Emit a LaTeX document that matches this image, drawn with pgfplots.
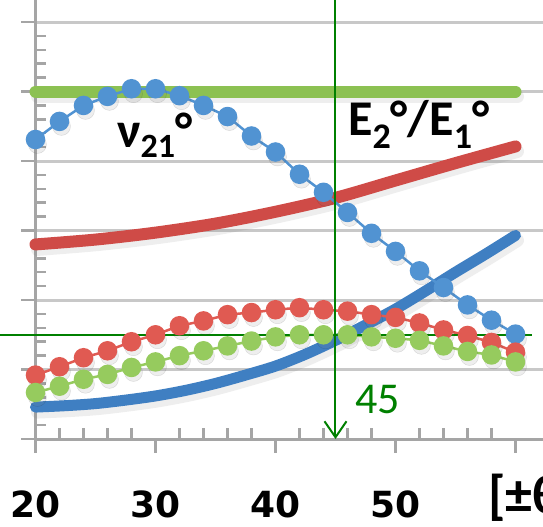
\documentclass[border=0pt]{standalone}
\usepackage{fontspec}
\usepackage{pgfplots}
\pgfplotsset{compat=1.18}
\usetikzlibrary{arrows.meta}
\setmainfont{Carlito}
\newfontfamily\tickfont{DejaVu Sans}

\definecolor{bluedot}{HTML}{5193D2}
\definecolor{blueline}{HTML}{3F7FC2}
\definecolor{reddot}{HTML}{E05A52}
\definecolor{redline}{HTML}{CF4B47}
\definecolor{greendot}{HTML}{96CB5E}
\definecolor{greenline}{HTML}{8CC152}
\definecolor{annot}{RGB}{0,128,0}
\definecolor{axisgray}{RGB}{165,165,165}
\definecolor{gridgray}{RGB}{200,200,200}
\definecolor{shadowgray}{RGB}{120,120,120}

% nu_21 (blue markers)
\pgfplotstableread{
x y
20 4.31
22 4.57
24 4.80
26 4.93
28 5.04
30 5.04
32 4.94
34 4.80
36 4.64
38 4.36
40 4.13
42 3.81
44 3.55
46 3.26
48 2.96
50 2.70
52 2.42
54 2.18
56 1.93
58 1.71
60 1.51
}\nutable

% red markers
\pgfplotstableread{
x y
20 0.92
22 1.04
24 1.17
26 1.27
28 1.40
30 1.50
32 1.63
34 1.70
36 1.79
38 1.82
40 1.86
42 1.89
44 1.86
46 1.84
48 1.79
50 1.75
52 1.67
54 1.57
56 1.49
58 1.39
60 1.25
}\redtable

% green markers
\pgfplotstableread{
x y
20 0.67
22 0.76
24 0.86
26 0.93
28 1.03
30 1.11
32 1.20
34 1.27
36 1.34
38 1.41
40 1.47
42 1.50
44 1.50
46 1.50
48 1.47
50 1.45
52 1.42
54 1.34
56 1.26
58 1.21
60 1.11
}\greentable

% E2/E1 (red curve)
\pgfplotstableread{
x y
20 2.80
25 2.87
30 2.97
35 3.10
40 3.27
45 3.47
50 3.72
55 3.97
60 4.21
}\ratiotable

% blue curve
\pgfplotstableread{
x y
20 0.46
22.5 0.48
25 0.51
27.5 0.56
30 0.62
32.5 0.70
35 0.80
37.5 0.92
40 1.05
42.5 1.22
45 1.42
47.5 1.64
50 1.87
52.5 2.13
55 2.40
57.5 2.66
60 2.93
}\bluetable

\begin{document}
\begin{tikzpicture}
\begin{axis}[
  x=12pt, y=69.5pt,
  xmin=20, xmax=64, ymin=0, ymax=6.6,
  axis lines=left,
  axis line style={-, draw=axisgray, line width=3pt},
  clip=false,
  xtick={20,30,40,50,60},
  xticklabels={20,30,40,50,{}},
  minor x tick num=4,
  ytick={0,1,2,3,4,5,6},
  yticklabels={},
  minor y tick num=4,
  tick align=inside,
  major tick length=-14pt,
  minor tick length=11pt,
  tick style={draw=axisgray, line width=2.5pt},
  ymajorgrids,
  major grid style={draw=gridgray, line width=3pt},
  xticklabel style={font=\tickfont\bfseries\fontsize{36}{36}\selectfont, inner sep=0pt, anchor=center, yshift=-65pt},
  dropshadow/.style={draw=shadowgray, opacity=0.13, xshift=2pt, yshift=-5pt},
]
% soft drop shadows under the curves
\addplot[dropshadow, line width=13pt, line cap=round, smooth] table[x=x,y=y] {\bluetable};
\addplot[dropshadow, line width=13pt, line cap=round, smooth] table[x=x,y=y] {\ratiotable};
\addplot[dropshadow, line width=13pt, line cap=round] coordinates {(20,5) (60,5)};
% smooth curves
\addplot[blueline, line width=11pt, line cap=round, smooth] table[x=x,y=y] {\bluetable};
\addplot[redline, line width=12pt, line cap=round, smooth] table[x=x,y=y] {\ratiotable};
\addplot[greenline, line width=12pt, line cap=round] coordinates {(20,5) (60,5)};
% marker series, each with a faint shadow
\addplot[only marks, mark=*, mark size=9pt, mark options={draw=none, fill=shadowgray, opacity=0.13, xshift=2pt, yshift=-5pt}] table[x=x,y=y] {\nutable};
\addplot[bluedot, line width=2.5pt, mark=*, mark size=8.5pt, mark options={draw=none, fill=bluedot}] table[x=x,y=y] {\nutable};
\addplot[only marks, mark=*, mark size=9pt, mark options={draw=none, fill=shadowgray, opacity=0.13, xshift=2pt, yshift=-5pt}] table[x=x,y=y] {\redtable};
\addplot[reddot, line width=2.5pt, mark=*, mark size=8.5pt, mark options={draw=none, fill=reddot}] table[x=x,y=y] {\redtable};
\addplot[only marks, mark=*, mark size=9pt, mark options={draw=none, fill=shadowgray, opacity=0.13, xshift=2pt, yshift=-5pt}] table[x=x,y=y] {\greentable};
\addplot[greendot, line width=2.5pt, mark=*, mark size=8.5pt, mark options={draw=none, fill=greendot}] table[x=x,y=y] {\greentable};
% guide lines at 45
\draw[annot, line width=2pt] (axis cs:15,1.5) -- (axis cs:61.375,1.5);
\draw[annot, line width=2pt, -{Straight Barb[length=16pt, width=22pt, line width=2pt]}] (axis cs:45,6.8) -- (axis cs:45,0);
\node[annot, anchor=base west, inner sep=0pt, font=\fontsize{44}{44}\selectfont] at (axis cs:46.63,0.374) {45};
% labels
\node[anchor=base west, inner sep=0pt, font=\fontsize{50}{50}\selectfont\bfseries] at (axis cs:26.79,4.201) {ν\raisebox{-10pt}{\fontsize{34}{34}\selectfont 21}°};
\node[anchor=base west, inner sep=0pt, font=\fontsize{50}{50}\selectfont\bfseries] at (axis cs:46.04,4.374) {E\raisebox{-13pt}{\fontsize{36}{36}\selectfont 2}°/E\raisebox{-13pt}{\fontsize{36}{36}\selectfont 1}°};
\node[anchor=base west, inner sep=0pt, font=\fontsize{54}{54}\selectfont\bfseries] at (axis cs:57.71,-1.065) {[±θ]};
\coordinate (bl) at (axis cs:17.042,-1.252);
\coordinate (tr) at (axis cs:62.292,6.317);
\end{axis}
\pgfresetboundingbox
\path[use as bounding box] (bl) rectangle (tr);
\end{tikzpicture}
\end{document}
